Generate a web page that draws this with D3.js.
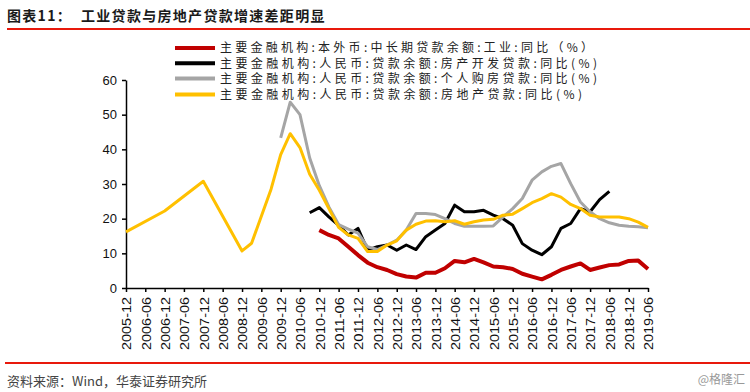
<!DOCTYPE html>
<meta charset="utf-8">
<title>工业贷款与房地产贷款增速差距明显</title>
<style>
  body { margin: 0; background: #fff; }
  svg { display: block; }
  .axis path, .axis line { stroke: #000; stroke-width: 1.5px; }
  .axis text { font: 13px "Liberation Sans", Arial, sans-serif; fill: #111; }
  .series { fill: none; stroke-linejoin: round; stroke-linecap: butt; }
  .legend text { font: 12px "Noto Sans CJK SC", sans-serif; fill: #222; }
</style>
<svg width="750" height="392"></svg>
<script src="https://cdn.jsdelivr.net/npm/d3@7/dist/d3.min.js"></script>
<script>
  var svg = d3.select("svg");
  var parse = d3.timeParse("%Y-%m");

  // x tick labels (half-yearly)
  var tickLabels = ["2005-12", "2006-06", "2006-12", "2007-06", "2007-12", "2008-06", "2008-12",
    "2009-06", "2009-12", "2010-06", "2010-12", "2011-06", "2011-12", "2012-06", "2012-12",
    "2013-06", "2013-12", "2014-06", "2014-12", "2015-06", "2015-12", "2016-06", "2016-12",
    "2017-06", "2017-12", "2018-06", "2018-12", "2019-06"];
  var yTicks = [0, 10, 20, 30, 40, 50, 60];

  var seriesNames = [
    "主要金融机构:本外币:中长期贷款余额:工业:同比（%）",
    "主要金融机构:人民币:贷款余额:房产开发贷款:同比(%)",
    "主要金融机构:人民币:贷款余额:个人购房贷款:同比(%)",
    "主要金融机构:人民币:贷款余额:房地产贷款:同比(%)"
  ];
  var seriesColors = ["#C00000", "#000000", "#A5A5A5", "#FFC000"];

  // quarterly values, first quarter given by start month
  var redStart = "2010-12";
  var redValues = [16.7, 15.3, 14.3, 11.9, 9.5, 7.3, 6, 5.2, 4, 3.3, 3, 4.4, 4.4, 5.7, 7.8, 7.4,
    8.4, 7.4, 6.2, 6, 5.5, 4.1, 3.3, 2.5, 3.8, 5.2, 6.2, 7.1, 5.2, 5.9, 6.6, 6.8, 7.8, 7.9, 5.5];

  var blackStart = "2010-09";
  var blackValues = [21.7, 23.2, 20.5, 18.1, 15.3, 17.2, 10.9, 11.9, 12.4, 10.9, 12.4, 11.1, 14.8,
    16.7, 18.6, 23.9, 22, 22, 22.4, 21, 20, 18.1, 12.8, 10.9, 9.6, 11.9, 17.2, 18.6, 22.9, 22,
    25.5, 27.9];

  var grayStart = "2009-12";
  var grayValues = [43.3, 53.6, 50, 37.5, 29.5, 23.4, 18.3, 17, 15.8, 11.9, 11.1, 12.4, 13.8, 16.7,
    21.5, 21.5, 21.2, 20, 18.6, 17.8, 17.8, 17.8, 17.9, 20.5, 22.9, 25.8, 31.1, 33.5, 35.1, 35.9,
    30.1, 24.8, 22, 20, 18.8, 18.1, 17.8, 17.7, 17.4];

  // yellow: sparse early points, then quarterly
  var yellowEarlyDates = ["2005-12", "2006-12", "2007-12", "2008-12", "2009-03"];
  var yellowEarlyValues = [16.2, 22.2, 30.8, 10.7, 12.9];
  var yellowStart = "2009-09";
  var yellowValues = [28.5, 38.5, 44.5, 40.5, 32.8, 28.2, 22.9, 17.5, 15.3, 14.3, 10.5, 10.5, 12.4,
    13.6, 16.7, 18.4, 19.3, 19.4, 19.1, 19.4, 18.4, 19.1, 19.6, 19.8, 21, 21.3, 22.9, 24.6, 25.8,
    27.2, 26.2, 24.1, 22.9, 21, 20.5, 20.5, 20.5, 20, 19, 17.5];

  function quarterly(start, values) {
    var d0 = parse(start);
    return values.map(function(v, i) {
      return { date: d3.timeMonth.offset(d0, i * 3), value: v };
    });
  }

  var yellowData = yellowEarlyDates.map(function(d, i) {
    return { date: parse(d), value: yellowEarlyValues[i] };
  }).concat(quarterly(yellowStart, yellowValues));

  var series = [
    quarterly(redStart, redValues),
    quarterly(blackStart, blackValues),
    quarterly(grayStart, grayValues),
    yellowData
  ];
  var widths = [4, 3, 3, 3];

  var x = d3.scaleTime()
    .domain([parse(tickLabels[0]), parse(tickLabels[tickLabels.length - 1])])
    .range([126, 648]);
  var y = d3.scaleLinear().domain([0, 60]).range([288, 80]);

  // title
  svg.append("text")
    .attr("x", 7).attr("y", 21)
    .style("font", "bold 14px 'Noto Sans CJK SC', sans-serif")
    .style("letter-spacing", "1.3px")
    .style("fill", "#1a1a1a")
    .attr("xml:space", "preserve")
    .text("图表11：  工业贷款与房地产贷款增速差距明显");

  svg.append("line").attr("x1", 7).attr("x2", 750).attr("y1", 29).attr("y2", 29)
    .style("stroke", "#E8190C").style("stroke-width", 2);
  svg.append("line").attr("x1", 5).attr("x2", 750).attr("y1", 363).attr("y2", 363)
    .style("stroke", "#E8190C").style("stroke-width", 2);

  // axes
  svg.append("g")
    .attr("class", "axis")
    .attr("transform", "translate(126,0)")
    .call(d3.axisLeft(y).tickValues(yTicks).tickSize(4).tickPadding(5).tickSizeOuter(0));

  var xAxis = svg.append("g")
    .attr("class", "axis")
    .attr("transform", "translate(0,288)")
    .call(d3.axisBottom(x)
      .tickValues(tickLabels.map(parse))
      .tickFormat(d3.timeFormat("%Y-%m"))
      .tickSize(4).tickSizeOuter(0));

  xAxis.selectAll("text")
    .attr("transform", "rotate(-90)")
    .attr("x", -9).attr("y", 0).attr("dy", "0.35em")
    .attr("textLength", 53)
    .attr("lengthAdjust", "spacingAndGlyphs")
    .style("font-size", "13.5px")
    .style("text-anchor", "end");

  // lines
  var line = d3.line()
    .x(function(d) { return x(d.date); })
    .y(function(d) { return y(d.value); });

  svg.append("g").selectAll("path")
    .data(series)
    .enter().append("path")
    .attr("class", "series")
    .attr("d", line)
    .style("stroke", function(d, i) { return seriesColors[i]; })
    .style("stroke-width", function(d, i) { return widths[i]; });

  // legend
  var textLens = [373, 377, 377, 362];
  var rowY = [48, 63.3, 78.6, 94.4];
  var legend = svg.append("g").attr("class", "legend")
    .selectAll("g")
    .data(seriesNames)
    .enter().append("g")
    .attr("transform", function(d, i) { return "translate(175," + rowY[i] + ")"; });

  legend.append("line")
    .attr("x1", 0).attr("x2", 40)
    .style("stroke", function(d, i) { return seriesColors[i]; })
    .style("stroke-width", 4);

  legend.append("text")
    .attr("x", 45).attr("dy", "0.36em")
    .attr("textLength", function(d, i) { return textLens[i]; })
    .attr("lengthAdjust", "spacing")
    .text(function(d) { return d; });

  // footer
  svg.append("text")
    .attr("x", 7).attr("y", 386)
    .style("font", "13px 'Noto Sans CJK SC', sans-serif")
    .style("fill", "#444")
    .text("资料来源：Wind，华泰证券研究所");

  svg.append("text")
    .attr("x", 745).attr("y", 384)
    .style("text-anchor", "end")
    .style("font", "12px 'Noto Sans CJK SC', sans-serif")
    .style("fill", "#999")
    .text("@格隆汇");
</script>
